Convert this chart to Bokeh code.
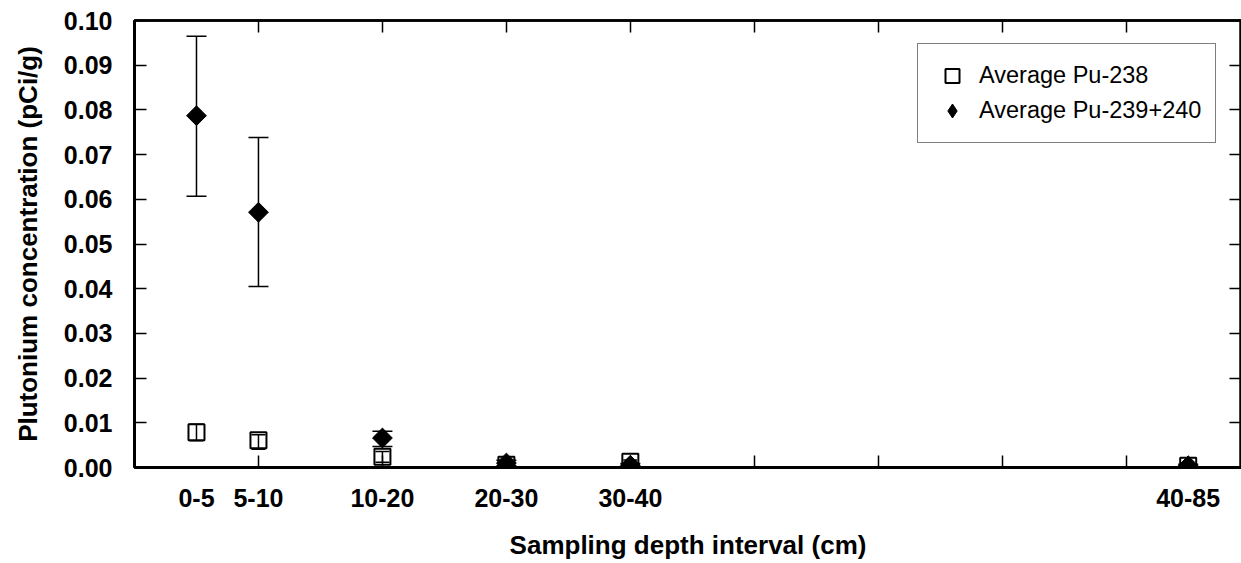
import math
from bokeh.plotting import figure
from bokeh.models import (ColumnDataSource, Whisker, TeeHead, FixedTicker, LinearAxis,
                          NumeralTickFormatter, Legend, LegendItem, Range1d)
from bokeh.embed import file_html
from bokeh.resources import INLINE

# ---- data ----
categories = ["0-5", "5-10", "10-20", "20-30", "30-40", "40-85"]
depth_bottom = [5, 10, 20, 30, 40, 85]          # plotted at the lower bound of each interval
pu238 = [0.0079, 0.0061, 0.0024, 0.0006, 0.0013, 0.0004]
pu238_lo = [0.0060, 0.0041, 0.0012, 0.0002, 0.0008, 0.0001]
pu238_hi = [0.0097, 0.0073, 0.0036, 0.0010, 0.0017, 0.0007]
pu239 = [0.0787, 0.0571, 0.0066, 0.0010, 0.0005, 0.0004]
pu239_lo = [0.0607, 0.0405, 0.0047, 0.0004, 0.0001, 0.0001]
pu239_hi = [0.0965, 0.0738, 0.0081, 0.0016, 0.0009, 0.0007]
x_ticks = [10, 20, 30, 40, 50, 60, 70, 80]
y_ticks = [0.00, 0.01, 0.02, 0.03, 0.04, 0.05, 0.06, 0.07, 0.08, 0.09, 0.10]

FONT = "Liberation Sans"

src238 = ColumnDataSource(dict(x=depth_bottom, y=pu238, lo=pu238_lo, hi=pu238_hi))
src239 = ColumnDataSource(dict(x=depth_bottom, y=pu239, lo=pu239_lo, hi=pu239_hi))

p = figure(width=1241, frame_height=447, output_backend="svg", toolbar_location=None,
           x_range=Range1d(0, 89.3), y_range=Range1d(0, 0.10),
           min_border_left=134, min_border_right=0, min_border_top=20, min_border_bottom=10)
p.background_fill_color = "white"
p.border_fill_color = "white"
p.outline_line_color = "black"
p.outline_line_width = 2.5
p.xgrid.visible = False
p.ygrid.visible = False


def tick_only(ax, width=2.5):
    ax.major_tick_in = 12
    ax.major_tick_out = 0
    ax.minor_tick_line_color = None
    ax.major_label_text_color = None
    ax.major_label_text_font_size = "1px"
    ax.major_label_standoff = 0
    ax.axis_line_width = width
    ax.major_tick_line_width = 1.5


# bottom tick axis (ticks only)
xa = p.xaxis[0]
xa.ticker = FixedTicker(ticks=x_ticks)
tick_only(xa, 3)

# category label axis
xl = LinearAxis(ticker=FixedTicker(ticks=depth_bottom),
                major_label_overrides={d: c for d, c in zip(depth_bottom, categories)},
                axis_line_color=None, major_tick_line_color=None, minor_tick_line_color=None,
                major_tick_in=0, major_tick_out=0,
                major_label_standoff=21,
                major_label_text_font=FONT, major_label_text_font_style="bold",
                major_label_text_font_size="25px", major_label_text_color="black",
                axis_label="Sampling depth interval (cm)", axis_label_text_font=FONT,
                axis_label_text_font_style="bold", axis_label_text_font_size="26px",
                axis_label_text_color="black", axis_label_standoff=20)
p.add_layout(xl, "below")

# top ticks
xt = LinearAxis(ticker=FixedTicker(ticks=x_ticks))
tick_only(xt)
p.add_layout(xt, "above")

# left axis
ya = p.yaxis[0]
ya.ticker = FixedTicker(ticks=y_ticks)
ya.formatter = NumeralTickFormatter(format="0.00")
ya.major_tick_in = 12
ya.major_tick_out = 0
ya.minor_tick_line_color = None
ya.axis_line_width = 3
ya.major_tick_line_width = 1.5
ya.major_label_standoff = 22
ya.major_label_text_font = FONT
ya.major_label_text_font_style = "bold"
ya.major_label_text_font_size = "25px"
ya.major_label_text_color = "black"
ya.axis_label = "Plutonium concentration (pCi/g)"
ya.axis_label_text_font = FONT
ya.axis_label_text_font_style = "bold"
ya.axis_label_text_font_size = "26px"
ya.axis_label_text_color = "black"
ya.axis_label_standoff = 18

# right ticks
yr = LinearAxis(ticker=FixedTicker(ticks=y_ticks))
tick_only(yr)
p.add_layout(yr, "right")

# error bars
w238 = Whisker(source=src238, base="x", lower="lo", upper="hi", line_color="black", line_width=1.5,
               upper_head=TeeHead(size=14, line_width=1.5, line_color="black"),
               lower_head=TeeHead(size=14, line_width=1.5, line_color="black"))
w239 = Whisker(source=src239, base="x", lower="lo", upper="hi", line_color="black", line_width=1.5,
               upper_head=TeeHead(size=20, line_width=1.5, line_color="black"),
               lower_head=TeeHead(size=20, line_width=1.5, line_color="black"))
p.add_layout(w238)
p.add_layout(w239)

# diamond used as the legend key (hidden under the rotated squares on the plot)
key239 = p.scatter("x", "y", source=src239, marker="diamond", size=10,
                   fill_color="black", line_color="black", line_width=1)
r239 = p.scatter("x", "y", source=src239, marker="square", size=14, angle=math.pi / 4,
                 fill_color="black", line_color="black", line_width=1)
r238 = p.scatter("x", "y", source=src238, marker="square", size=16,
                 fill_alpha=0, line_color="black", line_width=2)

legend = Legend(items=[LegendItem(label="Average Pu-238", renderers=[r238]),
                       LegendItem(label="Average Pu-239+240", renderers=[key239])],
                location=(783, 324), padding=14, spacing=0, margin=0,
                label_text_font=FONT, label_text_font_size="23.5px", label_text_color="black",
                label_height=24, glyph_height=35, glyph_width=40, label_standoff=7,
                border_line_color="black", border_line_width=1.5,
                background_fill_color="white", background_fill_alpha=1)
p.add_layout(legend, "center")

open("out.html", "w").write(file_html(p, INLINE))
